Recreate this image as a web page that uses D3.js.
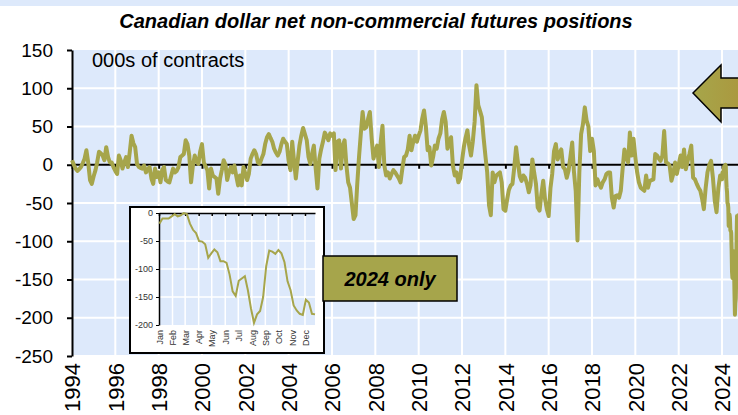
<!DOCTYPE html>
<html>
  <head>
    <meta charset="utf-8">
    <title>Canadian dollar net non-commercial futures positions</title>
    <style>
      body { margin: 0; background: #fff; }
      text { font-family: "Liberation Sans", Arial, sans-serif; }
    </style>
  </head>

  <body>
    <div id="chart"></div>

    <script src="https://d3js.org/d3.v7.min.js" type="text/javascript"></script>

<script>

  // monthly net positions, 000s of contracts, Jan 1994 .. Dec 2023
  var monthly = [
     6,   0,  -5,  -8,  -6,  -3,   2,   8,  19,   3, -20, -25,  // 1994
   -15,  -7,   3,  17,  15,  12,   6,  23,  10,   3,   3,  -3,  // 1995
    -8, -12,  12,   6,  -5,   3,  10,  -3,  17,  38,  28,  23,  // 1996
     1,  -3,  -4,  -5,  -1, -10,  -6,  -3, -18, -25,  -5, -16,  // 1997
   -10, -23,  -7,  -3, -20, -22, -23, -14,  -5, -10,  -8,  -3,  // 1998
    10,  12,  14,  32,  27,  12, -23,  -1,  12,   5,   1,  17,  // 1999
    27,   3,  -2,  -7, -31,  -5, -14, -16, -18, -38, -18,  -7,  // 2000
     6,   0, -20, -10,  -3, -10,  -1, -15, -27, -14, -27,  -3,  // 2001
   -12, -20, -12,   8,  14,  19,  14,   3,   1,   8,  14,  27,  // 2002
    36,  40,  35,  30,  21,  16,  12,  17,  27,  34,  30,  27,  // 2003
     5,  -7,  30,   5, -18,   5,  25,  38,  48,  40,  32,  10,  // 2004
     1,  15,  25,  -5, -31,   8,  20,  30,  42,  38,  32,  41,  // 2005
    38,  41,  -7,  30,  32,  -5,  25,  32,  -1, -23, -30, -50,  // 2006
   -71, -66, -27,  10,  40,  69,  47,  49,  60,  69,  34,   8,  // 2007
    17,  25,  -3,  30,  51,  -1, -14, -10, -18, -12,  -7, -10,  // 2008
   -14, -18, -23,  -5,  10,  12,  20,  38,  19,  30,  38,  30,  // 2009
    38,  45,  60,  71,  51,  19,  23,  -1,  10,  25,  21,  34,  // 2010
    41,  60,  69,  56,  21,  30,  36,  -1, -14, -10, -23, -18,  // 2011
     5,  23,  35,  45,  25,  12,  30,  56, 104,  78,  70,  62,  // 2012
    34,  10, -10, -53, -66, -10, -23, -14, -12, -10, -23, -58,  // 2013
   -60, -45, -33, -27, -25,  -3,  23,   3, -15, -21, -14, -17,  // 2014
   -25, -36, -27,   7, -10, -25, -56, -60, -38, -21, -45, -58,  // 2015
   -67, -30, -12,  18,  27,   7,  15,  20,  -3,  -6, -17,  -8,  // 2016
    10,  29,  -8, -34, -99, -10,  40,  53,  75,  58,  50,  18,  // 2017
    34,  18, -27, -19, -25, -30, -23, -19, -12, -10, -10, -43,  // 2018
   -56, -41, -40, -43, -34,  -5,  20,  10,   3,  42,  12,  34,  // 2019
    10, -10, -23, -30, -32, -34, -14, -30, -21, -20, -19,  14,  // 2020
    12,   8,   5,  12,  44,   3,   2,  -1, -21, -12,   3, -12,  // 2021
     0,  12,  -3,  20,  -6,   5,  14,  25, -17, -19, -25, -30,  // 2022
   -34, -45, -58, -30, -10,   0,   5, -17, -47, -62, -30, -14   // 2023
  ];

  // weekly net positions in 2024 (from 2 Jan)
  var weekly2024 = [
   -19, -10, -10, -10,  -6,  -2,  -6,  -4,   0,  -2, -19, -30, -36,
   -50, -51, -56, -80, -72, -65, -70, -86, -86, -89,-110,-140,-148,
  -121,-117,-113,-138,-170,-196,-181,-175,-150, -95, -67, -69, -73,
   -66, -72, -88,-122,-138,-165,-174,-180,-182,-155,-160,-180,-181
  ];

  var yTicks = [150, 100, 50, 0, -50, -100, -150, -200, -250];
  var insetTicks = [0, -50, -100, -150, -200];
  var monthNames = ["Jan","Feb","Mar","Apr","May","Jun","Jul","Aug","Sep","Oct","Nov","Dec"];

  var olive = "#a6a54b",
      plotBg = "#dde9fb",
      font = "'Liberation Sans', Arial, sans-serif";

  var width = 738, height = 415;

  var svg = d3.select('#chart')
    .append('svg')
    .attr("width", width)
    .attr("height", height);

  // plain hyphen minus like the original
  function fmt(d) { return String(d); }

  // build dated series
  var start = new Date(1994, 0, 1);
  var series = monthly.map(function(v, i) {
    return {date: d3.timeMonth.offset(start, i), value: v};
  });
  var weekSeries = weekly2024.map(function(v, i) {
    return {date: d3.timeDay.offset(new Date(2024, 0, 2), 7 * i), value: v};
  });
  var allSeries = series.concat(weekSeries);

  // top band
  svg.append("rect")
    .attr("x", 0).attr("y", 0)
    .attr("width", width).attr("height", 6)
    .attr("fill", plotBg);

  var x = d3.scaleTime()
    .domain([new Date(1994, 0, 1), new Date(2024, 0, 1)])
    .range([72, 722]);

  var y = d3.scaleLinear()
    .domain([-250, 150])
    .range([356, 50]);

  var xRight = width;

  svg.append("rect")
    .attr("x", x.range()[0]).attr("y", y(150))
    .attr("width", xRight - x.range()[0])
    .attr("height", y(-250) - y(150))
    .attr("fill", plotBg);

  var yearTicks = d3.range(1994, 2025, 2).map(function(yr) { return new Date(yr, 0, 1); });

  // gridlines
  svg.append("g").selectAll("line")
    .data(yTicks.slice(1))
    .enter().append("line")
    .attr("x1", x.range()[0]).attr("x2", xRight)
    .attr("y1", function(d) { return y(d); })
    .attr("y2", function(d) { return y(d); })
    .attr("stroke", "#fff").attr("stroke-width", 2);

  svg.append("g").selectAll("line")
    .data(yearTicks.slice(1))
    .enter().append("line")
    .attr("x1", function(d) { return x(d); })
    .attr("x2", function(d) { return x(d); })
    .attr("y1", y(150)).attr("y2", y(-250))
    .attr("stroke", "#fff").attr("stroke-width", 2);

  // zero axis with ticks
  var zeroAxis = svg.append("g")
    .attr("transform", "translate(0," + y(0) + ")")
    .call(d3.axisBottom(x).tickValues(yearTicks).tickSize(4).tickFormat(""));
  zeroAxis.select(".domain").attr("d", "M" + x.range()[0] + ",0H" + xRight)
    .attr("stroke", "#000").attr("stroke-width", 2);
  zeroAxis.selectAll(".tick line").attr("stroke", "#000").attr("stroke-width", 2);

  // year labels at bottom
  var labelAxis = svg.append("g")
    .attr("transform", "translate(0," + y(-250) + ")")
    .call(d3.axisBottom(x).tickValues(yearTicks).tickSize(0).tickFormat(d3.timeFormat("%Y")));
  labelAxis.select(".domain").remove();
  labelAxis.selectAll("text")
    .attr("transform", "rotate(-90)")
    .attr("x", -7).attr("y", 0).attr("dy", "0.36em")
    .attr("text-anchor", "end")
    .attr("fill", "#000")
    .style("font-size", "22px")
    .style("font-family", font);

  // y axis
  var yAxis = svg.append("g")
    .attr("transform", "translate(" + x.range()[0] + ",0)")
    .call(d3.axisLeft(y).tickValues(yTicks).tickSize(5).tickPadding(14).tickSizeOuter(0).tickFormat(fmt));
  yAxis.select(".domain").attr("stroke", "#000").attr("stroke-width", 2);
  yAxis.selectAll(".tick line").attr("stroke", "#000").attr("stroke-width", 2);
  yAxis.selectAll("text")
    .attr("fill", "#000")
    .style("font-size", "19px")
    .style("font-family", font);

  // main line
  var line = d3.line()
    .x(function(d) { return x(d.date); })
    .y(function(d) { return y(d.value); });

  svg.append("path")
    .datum(allSeries)
    .attr("d", line)
    .attr("fill", "none")
    .attr("stroke", olive)
    .attr("stroke-width", 4)
    .attr("stroke-linejoin", "round");

  svg.append("text")
    .attr("x", 92).attr("y", 67)
    .style("font-size", "20px")
    .text("000s of contracts");

  // title
  svg.append("text")
    .attr("x", 376).attr("y", 28)
    .attr("text-anchor", "middle")
    .style("font-size", "20px")
    .style("font-weight", "bold")
    .style("font-style", "italic")
    .text("Canadian dollar net non-commercial futures positions");

  // ---------- inset: 2024 only ----------
  svg.append("rect")
    .attr("x", 130).attr("y", 207)
    .attr("width", 194).attr("height", 146)
    .attr("fill", "#fff")
    .attr("stroke", "#000").attr("stroke-width", 2);

  var ix = d3.scaleTime()
    .domain([new Date(2024, 0, 1), new Date(2024, 11, 24)])
    .range([159, 315]);

  var iy = d3.scaleLinear()
    .domain([-200, 0])
    .range([325, 213]);

  var monthTicks = d3.range(12).map(function(m) { return new Date(2024, m, 1); });

  svg.append("rect")
    .attr("x", ix.range()[0]).attr("y", iy(0))
    .attr("width", ix.range()[1] - ix.range()[0])
    .attr("height", iy(-200) - iy(0))
    .attr("fill", plotBg);

  svg.append("g").selectAll("line")
    .data(insetTicks.slice(1, -1))
    .enter().append("line")
    .attr("x1", ix.range()[0]).attr("x2", ix.range()[1])
    .attr("y1", function(d) { return iy(d); })
    .attr("y2", function(d) { return iy(d); })
    .attr("stroke", "#fff").attr("stroke-width", 1.5);

  svg.append("g").selectAll("line")
    .data(monthTicks.slice(1))
    .enter().append("line")
    .attr("x1", function(d) { return ix(d); })
    .attr("x2", function(d) { return ix(d); })
    .attr("y1", iy(0)).attr("y2", iy(-200))
    .attr("stroke", "#fff").attr("stroke-width", 1.5);

  var iTop = svg.append("g")
    .attr("transform", "translate(0," + iy(0) + ")")
    .call(d3.axisBottom(ix).tickValues(monthTicks).tickSize(3).tickSizeOuter(0).tickFormat(""));
  iTop.select(".domain").attr("stroke", "#000").attr("stroke-width", 1.5);
  iTop.selectAll(".tick line").attr("stroke", "#000").attr("stroke-width", 1.5);

  var iBottom = svg.append("g")
    .attr("transform", "translate(0," + iy(-200) + ")")
    .call(d3.axisBottom(ix).tickValues(monthTicks).tickSize(0).tickFormat(function(d) {
      return monthNames[d.getMonth()];
    }));
  iBottom.select(".domain").remove();
  iBottom.selectAll("text")
    .attr("transform", "rotate(-90)")
    .attr("x", -5).attr("y", 0).attr("dy", "0.36em")
    .attr("text-anchor", "end")
    .attr("fill", "#333")
    .style("font-size", "9px")
    .style("font-family", font);

  var iLeft = svg.append("g")
    .attr("transform", "translate(" + ix.range()[0] + ",0)")
    .call(d3.axisLeft(iy).tickValues(insetTicks).tickSize(3).tickPadding(3).tickSizeOuter(0).tickFormat(fmt));
  iLeft.select(".domain").attr("stroke", "#000").attr("stroke-width", 1.5);
  iLeft.selectAll(".tick line").attr("stroke", "#000");
  iLeft.selectAll("text")
    .attr("fill", "#333")
    .style("font-size", "9px")
    .style("font-family", font);

  svg.append("path")
    .datum(weekSeries)
    .attr("d", d3.line()
      .x(function(d) { return ix(d.date); })
      .y(function(d) { return iy(d.value); }))
    .attr("fill", "none")
    .attr("stroke", olive)
    .attr("stroke-width", 2);

  // label box
  svg.append("rect")
    .attr("x", 323).attr("y", 256)
    .attr("width", 134).attr("height", 45)
    .attr("fill", olive)
    .attr("stroke", "#000").attr("stroke-width", 1.5);

  svg.append("text")
    .attr("x", 390).attr("y", 286)
    .attr("text-anchor", "middle")
    .style("font-size", "20px")
    .style("font-weight", "bold")
    .style("font-style", "italic")
    .text("2024 only");

  // arrow pointing left
  var grad = svg.append("defs").append("linearGradient")
    .attr("id", "arrowFill")
    .attr("x1", "0%").attr("x2", "100%");
  grad.append("stop").attr("offset", "0%").attr("stop-color", "#a6a64a");
  grad.append("stop").attr("offset", "100%").attr("stop-color", "#ab973e");

  svg.append("polygon")
    .attr("points", "693,93 721,65 721,78 745,78 745,108 721,108 721,122")
    .attr("fill", "url(#arrowFill)")
    .attr("stroke", "#000").attr("stroke-width", 1.5);

</script>
  </body>
</html>
